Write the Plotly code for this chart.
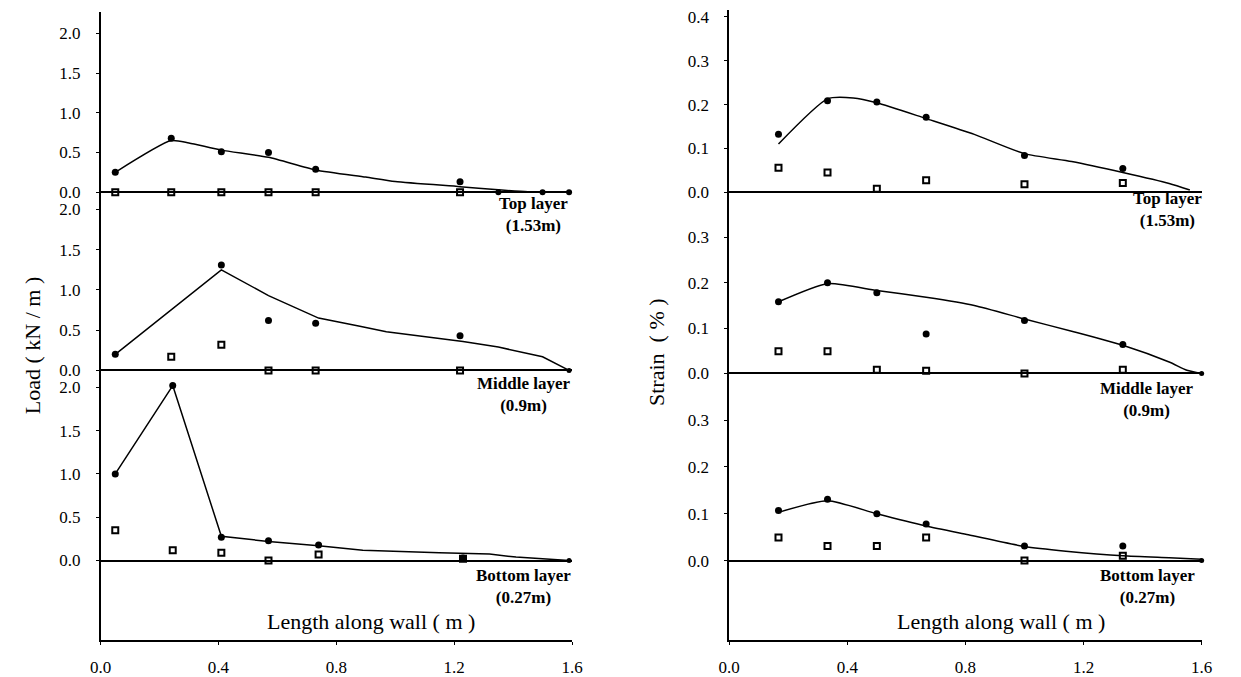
import plotly.graph_objects as go

# ---------------- data ----------------
# Left panel: Load (kN/m) vs length along wall (m)
left_x = [0.05, 0.24, 0.41, 0.57, 0.73, 1.22]
top_load_filled = [0.25, 0.68, 0.51, 0.50, 0.29, 0.13]
top_load_open = [0.0, 0.0, 0.0, 0.0, 0.0, 0.0]
top_load_tail_x = [1.35, 1.50, 1.59]
top_load_tail = [0.0, 0.0, 0.0]
top_load_fit_x = [0.05, 0.24, 0.30, 0.41, 0.57, 0.73, 0.90, 1.00, 1.22, 1.35, 1.45, 1.59]
top_load_fit = [0.25, 0.65, 0.62, 0.53, 0.44, 0.28, 0.19, 0.135, 0.07, 0.03, 0.005, 0.0]

mid_load_filled = [0.20, None, 1.31, 0.62, 0.585, 0.43]
mid_load_open = [None, 0.17, 0.32, 0.0, 0.0, 0.0]
mid_load_fit_x = [0.05, 0.41, 0.57, 0.74, 0.88, 0.97, 1.23, 1.35, 1.50, 1.59]
mid_load_fit = [0.20, 1.25, 0.93, 0.65, 0.55, 0.48, 0.36, 0.29, 0.17, 0.0]

bot_load_x = [0.05, 0.245, 0.41, 0.57, 0.74, 1.23]
bot_load_filled = [1.00, 2.02, 0.27, 0.23, 0.18, 0.03]
bot_load_open = [0.35, 0.12, 0.09, 0.0, 0.07, 0.02]
bot_load_fit_x = [0.05, 0.245, 0.41, 0.57, 0.74, 0.89, 1.15, 1.32, 1.41, 1.59]
bot_load_fit = [1.00, 2.02, 0.28, 0.22, 0.17, 0.12, 0.09, 0.075, 0.04, 0.0]
load_end_x = [1.59]
load_end = [0.0]

# Right panel: Strain (%) vs length along wall (m)
right_x = [0.167, 0.333, 0.5, 0.667, 1.0, 1.333]
top_strain_filled = [0.132, 0.209, 0.206, 0.171, 0.084, 0.054]
top_strain_open = [0.056, 0.045, 0.008, 0.027, 0.018, 0.021]
top_strain_fit_x = [0.167, 0.333, 0.42, 0.5, 0.667, 0.83, 1.0, 1.16, 1.333, 1.49, 1.56]
top_strain_fit = [0.11, 0.213, 0.215, 0.204, 0.168, 0.132, 0.088, 0.07, 0.045, 0.02, 0.005]

mid_strain_filled = [0.158, 0.200, 0.178, 0.087, 0.117, 0.064]
mid_strain_open = [0.049, 0.049, 0.008, 0.006, 0.0, 0.008]
mid_strain_fit_x = [0.167, 0.333, 0.5, 0.667, 0.83, 1.0, 1.16, 1.333, 1.49, 1.55, 1.6]
mid_strain_fit = [0.158, 0.198, 0.183, 0.168, 0.15, 0.12, 0.093, 0.062, 0.025, 0.007, 0.0]

bot_strain_filled = [0.107, 0.131, 0.100, 0.078, 0.031, 0.031]
bot_strain_open = [0.049, 0.031, 0.031, 0.049, 0.0, 0.010]
bot_strain_fit_x = [0.167, 0.333, 0.5, 0.667, 0.81, 1.0, 1.14, 1.333, 1.49, 1.6]
bot_strain_fit = [0.103, 0.128, 0.100, 0.074, 0.055, 0.030, 0.020, 0.010, 0.006, 0.003]
strain_end_x = [1.6]
strain_end = [0.0]

x_ticks = [0.0, 0.4, 0.8, 1.2, 1.6]
load_ticks = [0.0, 0.5, 1.0, 1.5, 2.0]
strain_ticks_top = [0.0, 0.1, 0.2, 0.3, 0.4]
strain_ticks = [0.0, 0.1, 0.2, 0.3]
layer_labels = ["Top layer<br>(1.53m)", "Middle layer<br>(0.9m)", "Bottom layer<br>(0.27m)"]

# ---------------- layout helpers ----------------
W, H = 1241, 677
OFF = 8  # page body margin offset
SERIF = "Liberation Serif, Times New Roman, serif"


def fx(px):
    return (px - OFF) / W


def fy(py):
    return 1 - (py - OFF) / H


def yrange(py_top, py_bot, py0, k):
    return [(py0 - py_bot) / k, (py0 - py_top) / k]


fig = go.Figure()

FILLED = dict(symbol="circle", size=7, color="black")
OPEN = dict(symbol="square-open", size=6, color="black", line=dict(width=2, color="black"))
LINE = dict(color="black", width=1.5)


def add_panel(xa, ya, fit_x, fit_y, px, filled, open_, shape):
    fig.add_trace(go.Scatter(x=fit_x, y=fit_y, mode="lines", line=dict(LINE, shape=shape, smoothing=0.6),
                             xaxis=xa, yaxis=ya, showlegend=False, cliponaxis=False))
    fig.add_trace(go.Scatter(x=px, y=open_, mode="markers", marker=OPEN,
                             xaxis=xa, yaxis=ya, showlegend=False, cliponaxis=False))
    fig.add_trace(go.Scatter(x=px, y=filled, mode="markers", marker=FILLED,
                             xaxis=xa, yaxis=ya, showlegend=False, cliponaxis=False))


add_panel("x", "y", top_load_fit_x, top_load_fit, left_x, top_load_filled, top_load_open, "spline")
fig.add_trace(go.Scatter(x=top_load_tail_x, y=top_load_tail, mode="markers", marker=dict(FILLED, size=6),
                         xaxis="x", yaxis="y", showlegend=False, cliponaxis=False))
add_panel("x", "y2", mid_load_fit_x, mid_load_fit, left_x, mid_load_filled, mid_load_open, "linear")
add_panel("x", "y3", bot_load_fit_x, bot_load_fit, bot_load_x, bot_load_filled, bot_load_open, "linear")
for ya in ["y2", "y3"]:
    fig.add_trace(go.Scatter(x=load_end_x, y=load_end, mode="markers", marker=dict(FILLED, size=5),
                             xaxis="x", yaxis=ya, showlegend=False, cliponaxis=False))

add_panel("x2", "y4", top_strain_fit_x, top_strain_fit, right_x, top_strain_filled, top_strain_open, "spline")
add_panel("x2", "y5", mid_strain_fit_x, mid_strain_fit, right_x, mid_strain_filled, mid_strain_open, "spline")
add_panel("x2", "y6", bot_strain_fit_x, bot_strain_fit, right_x, bot_strain_filled, bot_strain_open, "spline")
for ya in ["y5", "y6"]:
    fig.add_trace(go.Scatter(x=strain_end_x, y=strain_end, mode="markers", marker=dict(FILLED, size=5),
                             xaxis="x2", yaxis=ya, showlegend=False, cliponaxis=False))

TICKFONT = dict(family=SERIF, size=17, color="black")

xcommon = dict(range=[0, 1.6], tickvals=x_ticks, tickformat=".1f", showline=True, linecolor="black",
               linewidth=2, ticks="outside", ticklen=3, tickcolor="black", showgrid=False, zeroline=False,
               tickfont=TICKFONT, ticklabelstandoff=7, ticklabeloverflow="allow")

ycommon = dict(showline=True, linecolor="black", linewidth=1.5, ticks="outside", ticklen=3,
               tickcolor="black", showgrid=False, zeroline=True, zerolinecolor="black",
               zerolinewidth=2, tickformat=".1f", tickfont=TICKFONT, ticklabelstandoff=12,
               ticklabeloverflow="allow")

fig.update_layout(
    width=W, height=H, margin=dict(l=0, r=0, t=0, b=0),
    paper_bgcolor="white", plot_bgcolor="rgba(0,0,0,0)",
    xaxis=dict(xcommon, domain=[fx(91), fx(571)], anchor="y3"),
    xaxis2=dict(xcommon, domain=[fx(731), fx(1212)], anchor="y6"),
    yaxis=dict(ycommon, domain=[fy(200), fy(10)], range=yrange(10, 200, 191, 79.7), tickvals=load_ticks, anchor="x"),
    yaxis2=dict(ycommon, domain=[fy(380), fy(191)], range=yrange(191, 380, 370, 80.8), tickvals=load_ticks, anchor="x"),
    yaxis3=dict(ycommon, domain=[fy(641), fy(370)], range=yrange(370, 641, 561, 87.0), tickvals=load_ticks, anchor="x"),
    yaxis4=dict(ycommon, domain=[fy(200), fy(8)], range=yrange(8, 200, 191, 440.0), tickvals=strain_ticks_top, anchor="x2"),
    yaxis5=dict(ycommon, domain=[fy(382), fy(191)], range=yrange(191, 382, 373, 455.0), tickvals=strain_ticks, anchor="x2"),
    yaxis6=dict(ycommon, domain=[fy(641), fy(373)], range=yrange(373, 641, 561, 470.0), tickvals=strain_ticks, anchor="x2"),
)

LABELFONT = dict(family=SERIF, size=17, color="black")
label_pos = [(532, 213), (522, 394), (522, 587), (1177, 208), (1156, 399), (1157, 587)]
for i, (px, py) in enumerate(label_pos):
    fig.add_annotation(x=fx(px), y=fy(py), xref="paper", yref="paper", showarrow=False,
                       text="<b>" + layer_labels[i % 3].replace("<br>", "</b><br><b>") + "</b>",
                       font=LABELFONT, align="center", xanchor="center", yanchor="middle")

TITLEFONT = dict(family=SERIF, size=22, color="black")
for px in [366, 1008]:
    fig.add_annotation(x=fx(px), y=fy(622), xref="paper", yref="paper", showarrow=False,
                       text="Length along wall ( m )", font=TITLEFONT, xanchor="center", yanchor="middle")
fig.add_annotation(x=fx(22), y=fy(345), xref="paper", yref="paper", showarrow=False, textangle=-90,
                   text="Load ( kN / m )", font=TITLEFONT, xanchor="center", yanchor="middle")
fig.add_annotation(x=fx(657), y=fy(351), xref="paper", yref="paper", showarrow=False, textangle=-90,
                   text="Strain  ( % )", font=TITLEFONT, xanchor="center", yanchor="middle")

fig.write_html("out.html")
